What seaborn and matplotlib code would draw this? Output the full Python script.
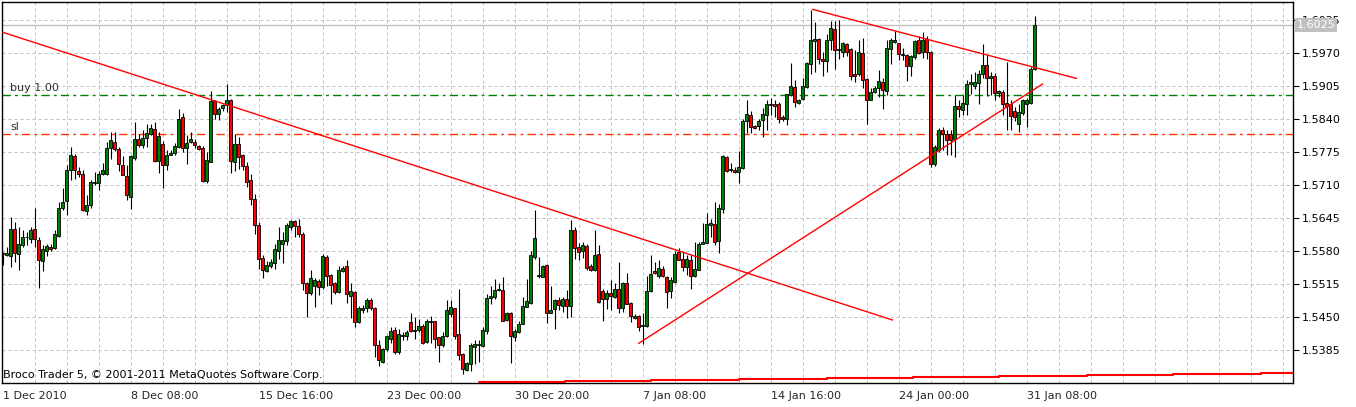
import numpy as np
import matplotlib
matplotlib.use("Agg")
import matplotlib.pyplot as plt
import matplotlib.transforms as mtransforms
import seaborn as sns

# H4 candles, EURUSD-like
opens = [1.5576, 1.5573, 1.5571, 1.5624, 1.5575, 1.5591, 1.5607, 1.5604, 1.5624, 1.5602,
         1.5560, 1.5581, 1.5588, 1.5585, 1.5610, 1.5665, 1.5679, 1.5739, 1.5767, 1.5738,
         1.5732, 1.5659, 1.5670, 1.5713, 1.5713, 1.5732, 1.5732, 1.5782, 1.5795, 1.5780,
         1.5750, 1.5728, 1.5686, 1.5764, 1.5801, 1.5788, 1.5803, 1.5811, 1.5821, 1.5757,
         1.5790, 1.5749, 1.5770, 1.5773, 1.5785, 1.5843, 1.5782, 1.5794, 1.5794, 1.5786,
         1.5783, 1.5718, 1.5755, 1.5876, 1.5849, 1.5861, 1.5867, 1.5877, 1.5755, 1.5790,
         1.5769, 1.5747, 1.5719, 1.5683, 1.5632, 1.5567, 1.5541, 1.5551, 1.5557, 1.5580,
         1.5593, 1.5600, 1.5627, 1.5639, 1.5629, 1.5613, 1.5517, 1.5497, 1.5511, 1.5520,
         1.5509, 1.5569, 1.5532, 1.5516, 1.5499, 1.5541, 1.5550, 1.5491, 1.5499, 1.5440,
         1.5464, 1.5468, 1.5483, 1.5467, 1.5394, 1.5361, 1.5386, 1.5407, 1.5424, 1.5381,
         1.5413, 1.5412, 1.5440, 1.5425, 1.5424, 1.5432, 1.5401, 1.5440, 1.5442, 1.5410,
         1.5394, 1.5412, 1.5455, 1.5468, 1.5416, 1.5378, 1.5346, 1.5358, 1.5391, 1.5394,
         1.5392, 1.5422, 1.5488, 1.5489, 1.5503, 1.5504, 1.5444, 1.5458, 1.5410, 1.5420,
         1.5437, 1.5470, 1.5478, 1.5568, 1.5531, 1.5529, 1.5552, 1.5458, 1.5466, 1.5484,
         1.5471, 1.5486, 1.5471, 1.5621, 1.5588, 1.5580, 1.5589, 1.5550, 1.5543, 1.5575,
         1.5502, 1.5486, 1.5497, 1.5490, 1.5506, 1.5468, 1.5516, 1.5478, 1.5449, 1.5451,
         1.5432, 1.5432, 1.5501, 1.5541, 1.5530, 1.5545, 1.5529, 1.5501, 1.5519, 1.5578,
         1.5565, 1.5549, 1.5563, 1.5530, 1.5543, 1.5593, 1.5596, 1.5631, 1.5634, 1.5600,
         1.5662, 1.5765, 1.5740, 1.5740, 1.5736, 1.5744, 1.5836, 1.5847, 1.5826, 1.5826,
         1.5839, 1.5847, 1.5868, 1.5870, 1.5869, 1.5844, 1.5841, 1.5887, 1.5904, 1.5872,
         1.5880, 1.5904, 1.5949, 1.5994, 1.5998, 1.5959, 1.5954, 1.5996, 1.6018, 1.5975,
         1.5972, 1.5987, 1.5977, 1.5928, 1.5928, 1.5970, 1.5918, 1.5878, 1.5893, 1.5902,
         1.5913, 1.5895, 1.5977, 1.5992, 1.5989, 1.5967, 1.5966, 1.5944, 1.5962, 1.5995,
         1.5972, 1.5998, 1.5972, 1.5751, 1.5778, 1.5819, 1.5811, 1.5811, 1.5801, 1.5865,
         1.5858, 1.5870, 1.5908, 1.5906, 1.5911, 1.5928, 1.5946, 1.5920, 1.5924, 1.5891,
         1.5893, 1.5872, 1.5870, 1.5856, 1.5830, 1.5852, 1.5870, 1.5872, 1.5939]
highs = [1.5578, 1.5588, 1.5647, 1.5637, 1.5627, 1.5621, 1.5617, 1.5627, 1.5665, 1.5608,
         1.5591, 1.5594, 1.5594, 1.5621, 1.5677, 1.5705, 1.5749, 1.5785, 1.5771, 1.5746,
         1.5739, 1.5690, 1.5719, 1.5736, 1.5738, 1.5753, 1.5795, 1.5815, 1.5815, 1.5785,
         1.5767, 1.5749, 1.5769, 1.5834, 1.5810, 1.5818, 1.5831, 1.5831, 1.5834, 1.5815,
         1.5796, 1.5778, 1.5778, 1.5792, 1.5859, 1.5851, 1.5808, 1.5815, 1.5800, 1.5788,
         1.5786, 1.5775, 1.5895, 1.5878, 1.5864, 1.5869, 1.5908, 1.5880, 1.5811, 1.5805,
         1.5772, 1.5755, 1.5732, 1.5693, 1.5637, 1.5572, 1.5560, 1.5565, 1.5594, 1.5627,
         1.5618, 1.5635, 1.5642, 1.5642, 1.5644, 1.5618, 1.5519, 1.5543, 1.5526, 1.5524,
         1.5574, 1.5572, 1.5534, 1.5519, 1.5550, 1.5550, 1.5563, 1.5516, 1.5501, 1.5471,
         1.5473, 1.5488, 1.5488, 1.5470, 1.5404, 1.5388, 1.5414, 1.5430, 1.5430, 1.5427,
         1.5420, 1.5425, 1.5457, 1.5450, 1.5447, 1.5437, 1.5447, 1.5451, 1.5442, 1.5410,
         1.5420, 1.5483, 1.5483, 1.5468, 1.5506, 1.5379, 1.5361, 1.5398, 1.5404, 1.5404,
         1.5430, 1.5496, 1.5512, 1.5524, 1.5516, 1.5529, 1.5460, 1.5460, 1.5427, 1.5443,
         1.5489, 1.5524, 1.5581, 1.5660, 1.5568, 1.5552, 1.5554, 1.5512, 1.5486, 1.5489,
         1.5489, 1.5503, 1.5641, 1.5627, 1.5596, 1.5598, 1.5594, 1.5555, 1.5621, 1.5591,
         1.5506, 1.5504, 1.5522, 1.5516, 1.5558, 1.5519, 1.5537, 1.5480, 1.5455, 1.5453,
         1.5458, 1.5530, 1.5572, 1.5558, 1.5563, 1.5550, 1.5530, 1.5529, 1.5581, 1.5585,
         1.5581, 1.5572, 1.5572, 1.5598, 1.5598, 1.5635, 1.5655, 1.5644, 1.5677, 1.5673,
         1.5770, 1.5768, 1.5753, 1.5745, 1.5777, 1.5841, 1.5877, 1.5856, 1.5828, 1.5841,
         1.5862, 1.5877, 1.5882, 1.5877, 1.5874, 1.5847, 1.5890, 1.5950, 1.5916, 1.5880,
         1.5920, 1.5952, 1.6054, 1.6031, 1.6000, 1.5972, 1.6008, 1.6033, 1.6033, 1.6035,
         1.5992, 1.5990, 1.5979, 1.5975, 1.5995, 1.6000, 1.5920, 1.5902, 1.5906, 1.5937,
         1.5920, 1.5996, 1.6000, 1.6014, 1.5990, 1.5979, 1.5968, 1.5966, 1.5996, 1.6003,
         1.6012, 1.6003, 1.5974, 1.5788, 1.5823, 1.5824, 1.5818, 1.5818, 1.5887, 1.5877,
         1.5887, 1.5916, 1.5929, 1.5933, 1.5936, 1.5987, 1.5966, 1.5933, 1.5931, 1.5898,
         1.5898, 1.5952, 1.5877, 1.5864, 1.5870, 1.5880, 1.5882, 1.5943, 1.6042]
lows = [1.5552, 1.5571, 1.5548, 1.5558, 1.5542, 1.5588, 1.5591, 1.5595, 1.5588, 1.5508,
        1.5541, 1.5571, 1.5580, 1.5583, 1.5608, 1.5661, 1.5650, 1.5719, 1.5722, 1.5726,
        1.5659, 1.5650, 1.5665, 1.5710, 1.5700, 1.5729, 1.5730, 1.5762, 1.5777, 1.5738,
        1.5729, 1.5680, 1.5663, 1.5759, 1.5785, 1.5782, 1.5785, 1.5808, 1.5755, 1.5733,
        1.5705, 1.5740, 1.5769, 1.5769, 1.5782, 1.5775, 1.5752, 1.5792, 1.5782, 1.5778,
        1.5716, 1.5714, 1.5755, 1.5841, 1.5839, 1.5856, 1.5854, 1.5734, 1.5738, 1.5742,
        1.5739, 1.5707, 1.5670, 1.5614, 1.5545, 1.5526, 1.5539, 1.5547, 1.5545, 1.5565,
        1.5556, 1.5591, 1.5621, 1.5608, 1.5608, 1.5504, 1.5450, 1.5493, 1.5470, 1.5493,
        1.5506, 1.5512, 1.5475, 1.5496, 1.5497, 1.5539, 1.5478, 1.5449, 1.5430, 1.5438,
        1.5457, 1.5460, 1.5463, 1.5371, 1.5353, 1.5359, 1.5383, 1.5398, 1.5377, 1.5378,
        1.5405, 1.5405, 1.5420, 1.5407, 1.5421, 1.5396, 1.5398, 1.5398, 1.5388, 1.5361,
        1.5391, 1.5411, 1.5450, 1.5407, 1.5365, 1.5338, 1.5344, 1.5344, 1.5358, 1.5361,
        1.5391, 1.5417, 1.5476, 1.5486, 1.5501, 1.5442, 1.5443, 1.5359, 1.5403, 1.5418,
        1.5436, 1.5470, 1.5476, 1.5565, 1.5526, 1.5528, 1.5438, 1.5457, 1.5427, 1.5464,
        1.5460, 1.5449, 1.5450, 1.5565, 1.5563, 1.5567, 1.5542, 1.5541, 1.5541, 1.5478,
        1.5443, 1.5466, 1.5463, 1.5488, 1.5458, 1.5460, 1.5475, 1.5440, 1.5446, 1.5422,
        1.5397, 1.5430, 1.5499, 1.5534, 1.5526, 1.5529, 1.5468, 1.5488, 1.5517, 1.5562,
        1.5541, 1.5532, 1.5506, 1.5529, 1.5542, 1.5593, 1.5595, 1.5608, 1.5591, 1.5576,
        1.5655, 1.5736, 1.5736, 1.5734, 1.5713, 1.5742, 1.5813, 1.5813, 1.5821, 1.5818,
        1.5805, 1.5818, 1.5847, 1.5844, 1.5832, 1.5837, 1.5828, 1.5885, 1.5864, 1.5869,
        1.5878, 1.5902, 1.5928, 1.5933, 1.5949, 1.5924, 1.5933, 1.5975, 1.5939, 1.5959,
        1.5962, 1.5964, 1.5916, 1.5913, 1.5924, 1.5902, 1.5830, 1.5877, 1.5891, 1.5883,
        1.5860, 1.5887, 1.5949, 1.5990, 1.5957, 1.5956, 1.5915, 1.5924, 1.5959, 1.5969,
        1.5961, 1.5959, 1.5745, 1.5747, 1.5775, 1.5778, 1.5769, 1.5769, 1.5765, 1.5844,
        1.5847, 1.5847, 1.5890, 1.5900, 1.5870, 1.5920, 1.5885, 1.5887, 1.5877, 1.5883,
        1.5847, 1.5818, 1.5818, 1.5837, 1.5814, 1.5847, 1.5824, 1.5870, 1.5936]
closes = [1.5574, 1.5576, 1.5624, 1.5576, 1.5593, 1.5608, 1.5608, 1.5622, 1.5604, 1.5562,
          1.5583, 1.5589, 1.5583, 1.5613, 1.5665, 1.5676, 1.5740, 1.5769, 1.5740, 1.5732,
          1.5660, 1.5670, 1.5715, 1.5716, 1.5732, 1.5740, 1.5782, 1.5798, 1.5780, 1.5752,
          1.5730, 1.5690, 1.5767, 1.5801, 1.5788, 1.5803, 1.5813, 1.5823, 1.5757, 1.5807,
          1.5749, 1.5769, 1.5773, 1.5786, 1.5841, 1.5782, 1.5793, 1.5800, 1.5788, 1.5780,
          1.5718, 1.5759, 1.5875, 1.5849, 1.5859, 1.5867, 1.5878, 1.5757, 1.5790, 1.5765,
          1.5747, 1.5716, 1.5683, 1.5632, 1.5565, 1.5542, 1.5552, 1.5559, 1.5583, 1.5601,
          1.5602, 1.5631, 1.5639, 1.5629, 1.5614, 1.5517, 1.5497, 1.5527, 1.5522, 1.5509,
          1.5570, 1.5530, 1.5514, 1.5499, 1.5543, 1.5547, 1.5495, 1.5501, 1.5440, 1.5468,
          1.5468, 1.5483, 1.5467, 1.5394, 1.5365, 1.5386, 1.5412, 1.5422, 1.5381, 1.5417,
          1.5414, 1.5421, 1.5422, 1.5422, 1.5432, 1.5399, 1.5442, 1.5443, 1.5407, 1.5394,
          1.5412, 1.5463, 1.5470, 1.5412, 1.5376, 1.5348, 1.5359, 1.5394, 1.5396, 1.5396,
          1.5425, 1.5488, 1.5491, 1.5504, 1.5505, 1.5443, 1.5458, 1.5412, 1.5422, 1.5437,
          1.5471, 1.5481, 1.5572, 1.5605, 1.5532, 1.5550, 1.5458, 1.5464, 1.5484, 1.5473,
          1.5486, 1.5471, 1.5622, 1.5585, 1.5578, 1.5591, 1.5547, 1.5543, 1.5572, 1.5480,
          1.5486, 1.5497, 1.5491, 1.5506, 1.5468, 1.5516, 1.5476, 1.5451, 1.5451, 1.5430,
          1.5434, 1.5501, 1.5535, 1.5537, 1.5547, 1.5530, 1.5499, 1.5522, 1.5575, 1.5563,
          1.5549, 1.5565, 1.5530, 1.5545, 1.5593, 1.5598, 1.5634, 1.5635, 1.5598, 1.5664,
          1.5767, 1.5738, 1.5741, 1.5736, 1.5746, 1.5836, 1.5849, 1.5824, 1.5823, 1.5837,
          1.5849, 1.5869, 1.5870, 1.5866, 1.5841, 1.5841, 1.5889, 1.5906, 1.5874, 1.5878,
          1.5906, 1.5950, 1.5996, 1.5998, 1.5959, 1.5954, 1.5996, 1.6020, 1.5975, 1.5977,
          1.5989, 1.5972, 1.5924, 1.5924, 1.5972, 1.5916, 1.5878, 1.5893, 1.5902, 1.5915,
          1.5898, 1.5979, 1.5995, 1.5995, 1.5969, 1.5968, 1.5944, 1.5964, 1.5994, 1.5970,
          1.5996, 1.5972, 1.5752, 1.5785, 1.5819, 1.5811, 1.5799, 1.5798, 1.5865, 1.5860,
          1.5872, 1.5908, 1.5913, 1.5913, 1.5929, 1.5946, 1.5920, 1.5924, 1.5891, 1.5895,
          1.5869, 1.5865, 1.5845, 1.5844, 1.5853, 1.5877, 1.5877, 1.5939, 1.6025]

# axis labels
price_ticks = [1.5385, 1.5450, 1.5515, 1.5580, 1.5645, 1.5710, 1.5775, 1.5840, 1.5905, 1.5970, 1.6035]
time_labels = ["1 Dec 2010", "8 Dec 08:00", "15 Dec 16:00", "23 Dec 00:00", "30 Dec 20:00",
               "7 Jan 08:00", "14 Jan 16:00", "24 Jan 00:00", "31 Jan 08:00"]
label_every = 32   # bars between time labels
grid_every = 8

# objects drawn on the chart (bar index, price)
trend_lines = [
    ([0, 222.5], [1.6011, 1.5444]),
    ([159, 260], [1.5398, 1.5909]),
    ([202.5, 268.5], [1.6056, 1.5920]),
]
buy_price = 1.5888
sl_price = 1.5811
bid_price = 1.6025

# red step line at the bottom
step_bars = [119, 140.5, 162, 184, 206, 227.5, 249, 271, 292.5, 314.5, 323]
step_vals = [1.5322, 1.5324, 1.5326, 1.5328, 1.5329, 1.5331, 1.5333, 1.5335, 1.5337, 1.5339, 1.5339]

sns.set_style("white")
plt.rcParams['font.family'] = ['DejaVu Sans']

W, H = 1356, 407
fig = plt.figure(figsize=(W / 100, H / 100), dpi=100)
ax = fig.add_axes([2 / W, (H - 383) / H, (1293 - 2) / W, (383 - 2) / H])

o = np.array(opens)
h = np.array(highs)
l = np.array(lows)
c = np.array(closes)
idx = np.arange(len(o))

# grid
grid_kw = dict(color="#c0c0c0", lw=0.72, ls=(0, (3, 3)), zorder=1)
for p in price_ticks:
    ax.axhline(p, **grid_kw)
for b in range(grid_every, 323, grid_every):
    ax.axvline(b, **grid_kw)

# bid line
ax.axhline(bid_price, color="#c0c0c0", lw=1.0, zorder=1)

# candles
up = c >= o
body_col = np.where(up, "#008000", "#ff0000")
ax.vlines(idx, l, h, color="black", lw=0.8, zorder=3)
heights = np.maximum(np.abs(c - o), 0.00003)
ax.bar(idx, heights, bottom=np.minimum(o, c), width=0.75, color=body_col,
       edgecolor="black", linewidth=0.6, zorder=4)

# trend lines
for xs, ps in trend_lines:
    sns.lineplot(x=xs, y=ps, ax=ax, color="red", lw=1.0, zorder=5)

# order levels
ax.axhline(buy_price, color="#008000", lw=1.0, ls=(0, (6, 3, 2, 3)), zorder=2)
ax.axhline(sl_price, color="#ff3300", lw=1.0, ls=(0, (6, 3, 2, 3)), zorder=2)
ax.text(1.9, buy_price + 0.0003, "buy 1.00", fontsize=8, color="#303030", va="bottom", ha="left")
ax.text(1.9, sl_price + 0.0003, "sl", fontsize=8, color="#303030", va="bottom", ha="left")

# step line
sns.lineplot(x=step_bars, y=step_vals, ax=ax, color="red", lw=1.5, drawstyle="steps-post", zorder=5)

ax.set_xlim(-0.125, 322.6)
ax.set_ylim(1.5320, 1.60705)

# axes
ax.yaxis.tick_right()
ax.set_yticks(price_ticks)
ax.set_yticklabels([f"{p:.4f}" for p in price_ticks], fontsize=8)
ax.tick_params(axis="y", direction="out", length=4, width=0.8, pad=2, colors="black")
xt = [i * label_every for i in range(len(time_labels))]
ax.set_xticks(xt)
ax.set_xticklabels(time_labels, fontsize=8, ha="left")
ax.tick_params(axis="x", direction="out", length=4, width=0.8, pad=2)
for s in ax.spines.values():
    s.set_color("black")
    s.set_linewidth(1.0)
ax.set_xlabel("")
ax.set_ylabel("")
ax.grid(False)

# current price label
tr = mtransforms.blended_transform_factory(ax.transAxes, ax.transData)
ax.text(1.003, bid_price, f"{bid_price:.4f}", transform=tr, fontsize=8, color="white",
        va="center", ha="left", zorder=10,
        bbox=dict(boxstyle="square,pad=0.15", facecolor="#c0c0c0", edgecolor="none"))

fig.text(3 / W, 1 - 375 / H, "Broco Trader 5, \u00a9 2001-2011 MetaQuotes Software Corp.",
         fontsize=8, color="black", va="center", ha="left")

fig.savefig("out.png", dpi=100)
